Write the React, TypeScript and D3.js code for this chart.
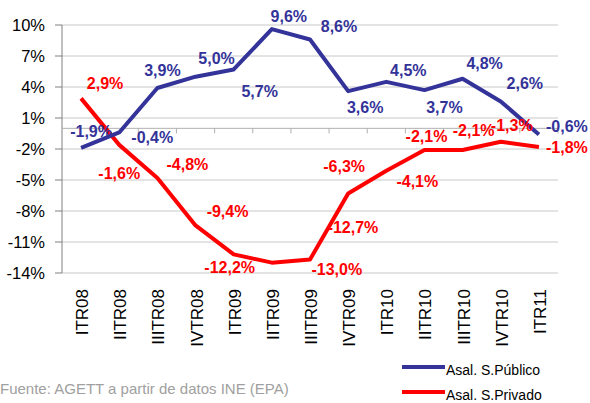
import React from "react";
import * as d3 from "d3";

const categories = ["ITR08","IITR08","IIITR08","IVTR08","ITR09","IITR09","IIITR09","IVTR09","ITR10","IITR10","IIITR10","IVTR10","ITR11"];
const publico = [-1.9, -0.4, 3.9, 5.0, 5.7, 9.6, 8.6, 3.6, 4.5, 3.7, 4.8, 2.6, -0.6];
const privado = [2.9, -1.6, -4.8, -9.4, -12.2, -13.0, -12.7, -6.3, -4.1, -2.1, -2.1, -1.3, -1.8];
const yTicks = [10, 7, 4, 1, -2, -5, -8, -11, -14];
const seriesNames = ["Asal. S.Público", "Asal. S.Privado"];
const sourceText = "Fuente: AGETT a partir de datos INE (EPA)";

// label placement offsets (px) relative to each point
const pubDx = [10, 33, 5, 21, 26, 17, 29, 17, 22, 20, 22, 24, 28];
const pubDy = [-17, 5, -17.5, -18, 22, -13, -13.5, 16, -12, 17, -15, -18, -8];
const priDx = [24, 0, 30, 32, -4, 65, 43, -4, 31, 2, 11, 11, 28];
const priDy = [-15, 28, -14, -14, 13, 7, -32, -27, 11, -13.5, -19.5, -17, 0];

const BLUE = "#333399";
const RED = "#ff0000";
const FONT = "'Liberation Sans', Arial, sans-serif";

const fmt = (v: number) => v.toFixed(1).replace(".", ",") + "%";

export default function App() {
  const W = 590, H = 403;
  const left = 62, right = 558, top = 25, bottom = 273;
  const x = d3.scaleBand<string>().domain(categories).range([left, right]);
  const y = d3.scaleLinear().domain([-14, 10]).range([bottom, top]);
  const cx = (i: number) => (x(categories[i]) as number) + x.bandwidth() / 2;
  const line = d3.line<number>().x((_, i) => cx(i)).y((d) => y(d));

  return (
    <svg width={W} height={H} style={{ position: "absolute", left: 0, top: 0, background: "#fff" }} fontFamily={FONT}>
      {/* gridlines */}
      {yTicks.map((t) => (
        <line key={"g" + t} x1={left} x2={right} y1={y(t)} y2={y(t)} stroke="#c8c8c8" strokeWidth={1} />
      ))}
      {/* y axis */}
      <line x1={left} x2={left} y1={top} y2={bottom} stroke="#808080" strokeWidth={1} />
      {yTicks.map((t) => (
        <g key={"yt" + t}>
          <line x1={left - 7} x2={left} y1={y(t)} y2={y(t)} stroke="#808080" />
          <text x={45} y={y(t)} dy="0.36em" textAnchor="end" fontSize={16.5} fill="#000">{t + "%"}</text>
        </g>
      ))}
      {/* x axis at zero */}
      <line x1={left} x2={right} y1={y(0)} y2={y(0)} stroke="#b0b0b0" strokeWidth={1} />
      {categories.map((c) => (
        <line key={"xt" + c} x1={(x(c) as number) + x.bandwidth()} x2={(x(c) as number) + x.bandwidth()} y1={y(0)} y2={y(0) + 5} stroke="#b0b0b0" />
      ))}
      {/* x labels */}
      {categories.map((c, i) => (
        <text key={"xl" + c} transform={`translate(${cx(i) + 7},289) rotate(-90)`} textAnchor="end" fontSize={17} fill="#000">{c}</text>
      ))}
      {/* lines */}
      <path d={line(privado) || ""} fill="none" stroke={RED} strokeWidth={4} strokeLinejoin="round" />
      <path d={line(publico) || ""} fill="none" stroke={BLUE} strokeWidth={4} strokeLinejoin="round" />
      {/* labels */}
      {publico.map((v, i) => (
        <text key={"pl" + i} x={cx(i) + pubDx[i]} y={y(v) + pubDy[i]} dy="0.36em" textAnchor="middle" fontSize={16} fontWeight="bold" fill={BLUE}>{fmt(v)}</text>
      ))}
      {privado.map((v, i) => (
        <text key={"rl" + i} x={cx(i) + priDx[i]} y={y(v) + priDy[i]} dy="0.36em" textAnchor="middle" fontSize={16} fontWeight="bold" fill={RED}>{fmt(v)}</text>
      ))}
      {/* legend */}
      <line x1={402} x2={445} y1={367} y2={367} stroke={BLUE} strokeWidth={4} />
      <text x={446} y={375} fontSize={14} fill="#000">{seriesNames[0]}</text>
      <line x1={402} x2={445} y1={392} y2={392} stroke={RED} strokeWidth={4} />
      <text x={446} y={400} fontSize={14} fill="#000">{seriesNames[1]}</text>
      {/* source */}
      <text x={0} y={394} fontSize={15} fill="#a0a0a0">{sourceText}</text>
    </svg>
  );
}
